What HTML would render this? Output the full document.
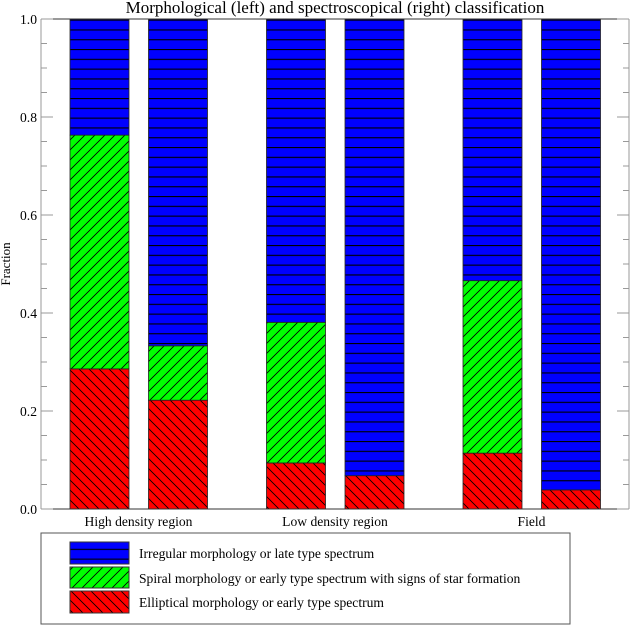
<!DOCTYPE html>
<html><head><meta charset="utf-8"><style>
body{margin:0;background:#fff;}
svg text{font-family:"Liberation Serif",serif;fill:#000;}
</style></head><body>
<svg id="chart" width="630" height="625" xmlns="http://www.w3.org/2000/svg">
<defs>
<pattern id="pBlue" patternUnits="userSpaceOnUse" width="10" height="9.8"><rect width="10" height="9.8" fill="#0000ff"/><rect x="0" y="0" width="10" height="1.1" fill="#000"/></pattern>
<pattern id="pGreen" patternUnits="userSpaceOnUse" width="10" height="10"><rect width="10" height="10" fill="#00ff00"/><path d="M-1,1 L1,-1 M0,10 L10,0 M9,11 L11,9" stroke="#000" stroke-width="0.8"/></pattern>
<pattern id="pRed" patternUnits="userSpaceOnUse" width="10" height="10"><rect width="10" height="10" fill="#ff0000"/><path d="M-1,9 L1,11 M0,0 L10,10 M9,-1 L11,1" stroke="#000" stroke-width="0.8"/></pattern>
</defs>
<text x="335" y="13" font-size="17" text-anchor="middle">Morphological (left) and spectroscopical (right) classification</text>
<text transform="translate(10,264) rotate(-90)" font-size="13" text-anchor="middle">Fraction</text>
<g id="bars"></g>
<g id="axes"></g>
<g>
<rect x="41" y="533" width="529" height="91" fill="none" stroke="#555" stroke-width="1"/>
<rect x="70" y="542" width="59" height="22" fill="url(#pBlue)" stroke="#333"/>
<text x="139" y="558" font-size="13.6">Irregular morphology or late type spectrum</text>
<rect x="70" y="567" width="59" height="21" fill="url(#pGreen)" stroke="#333"/>
<text x="139" y="583" font-size="13.6">Spiral morphology or early type spectrum with signs of star formation</text>
<rect x="70" y="591" width="59" height="22" fill="url(#pRed)" stroke="#333"/>
<text x="139" y="607" font-size="13.6">Elliptical morphology or early type spectrum</text>
</g>
</svg>
<script>
const groups = ["High density region","Low density region","Field"];
const ellipticalMorph = [0.286, 0.094, 0.114];
const spiralMorph = [0.477, 0.287, 0.352];
const ellipticalSpec = [0.222, 0.068, 0.039];
const spiralSpec = [0.111, 0, 0];
const yTicks = ["0.0","0.2","0.4","0.6","0.8","1.0"];

const NS="http://www.w3.org/2000/svg";
const x0=41,x1=629,yB=509,yT=19;
const y=v=>yB-v*(yB-yT);
const bx=(g,s)=>70+g*196.5+s*78.5;
const bw=59;
const barsG=document.getElementById('bars');
const axesG=document.getElementById('axes');
function mk(tag,attrs,parent){const e=document.createElementNS(NS,tag);for(const k in attrs)e.setAttribute(k,attrs[k]);parent.appendChild(e);return e;}
const kinds=[["elliptical","url(#pRed)"],["spiral","url(#pGreen)"],["irregular","url(#pBlue)"]];
groups.forEach((g,i)=>{
  [[ellipticalMorph[i],spiralMorph[i],"morph"],[ellipticalSpec[i],spiralSpec[i],"spec"]].forEach((d,s)=>{
    const vals=[d[0],d[1],1-d[0]-d[1]];
    let base=0;
    vals.forEach((v,k)=>{
      if(v<=0){return;}
      const r=mk('rect',{x:bx(i,s),y:y(base+v),width:bw,height:y(base)-y(base+v),fill:kinds[k][1],stroke:"#222","stroke-width":0.8},barsG);
      
      
      base+=v;
    });
  });
  const t=mk('text',{x:bx(i,0)+68.5,y:526,"font-size":13.6,"text-anchor":"middle"},axesG);
  t.textContent=g;
  
  
});
mk('line',{x1:x0,y1:yB,x2:x1,y2:yB,stroke:"#333"},axesG);
mk('line',{x1:x0,y1:yT,x2:x1,y2:yT,stroke:"#333"},axesG);
mk('line',{x1:x0,y1:yB,x2:x0,y2:yT,stroke:"#999"},axesG);
mk('line',{x1:x1,y1:yB,x2:x1,y2:yT,stroke:"#999"},axesG);
for(let k=0;k<=20;k++){
  const v=k*0.05,major=k%4===0,len=major?12:6;
  mk('line',{x1:x0,y1:y(v),x2:x0+len,y2:y(v),stroke:"#999"},axesG);
  mk('line',{x1:x1,y1:y(v),x2:x1-len,y2:y(v),stroke:"#999"},axesG);
}
yTicks.forEach((lab,k)=>{
  const t=mk('text',{x:37,y:y(k*0.2)+5,"font-size":13.6,"text-anchor":"end"},axesG);
  t.textContent=lab;
  
  
});
</script>
</body></html>
